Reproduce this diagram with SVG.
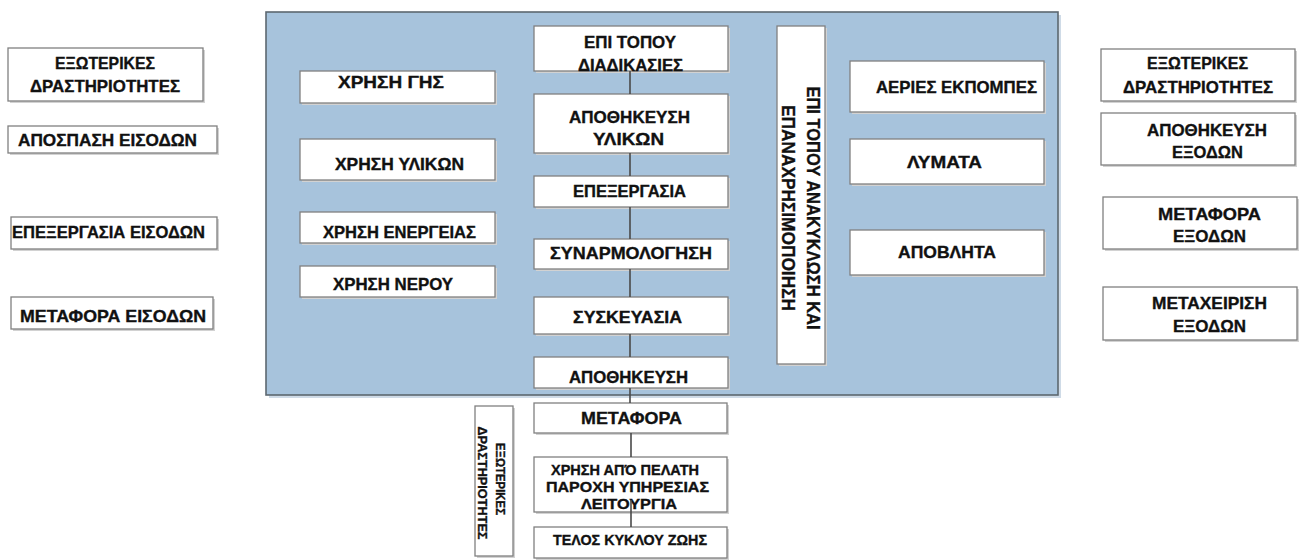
<svg xmlns="http://www.w3.org/2000/svg" width="1299" height="560" viewBox="0 0 1299 560">
<style>
.bg{fill:#ffffff}
.panel{fill:#a7c3dc;stroke:#5d6870;stroke-width:1.6}
.pshadow{fill:#cfdbe7}
.box{fill:#ffffff;stroke:#808080;stroke-width:1.3}
.sh{fill:#d2d2d2}
.t{font-family:"Liberation Sans",Arial,sans-serif;font-weight:bold;font-size:16.5px;fill:#111111;stroke:#111111;stroke-width:0.35px}
.s{font-size:14.5px}
.conn{stroke:#4a4a4a;stroke-width:1.6;fill:none}
</style>
<rect class="bg" x="0" y="0" width="1299" height="560"/>
<g id="panel">
<rect class="pshadow" x="269" y="15" width="792" height="383"/>
<rect class="panel" x="266" y="12" width="792" height="383"/>
</g>
<g id="ext-left">
<rect class="sh" x="10" y="50" width="195" height="53"/><rect class="box" x="8" y="48" width="195" height="53"/>
<text class="t" x="55" y="69" textLength="100" lengthAdjust="spacingAndGlyphs">ΕΞΩΤΕΡΙΚΕΣ</text>
<text class="t" x="30" y="92" textLength="150" lengthAdjust="spacingAndGlyphs">ΔΡΑΣΤΗΡΙΟΤΗΤΕΣ</text>
</g>
<g id="aposp">
<rect class="sh" x="10" y="128" width="209" height="27"/><rect class="box" x="8" y="126" width="209" height="27"/>
<text class="t" x="18" y="146" textLength="179" lengthAdjust="spacingAndGlyphs">ΑΠΟΣΠΑΣΗ ΕΙΣΟΔΩΝ</text>
</g>
<g id="epex-eis">
<rect class="sh" x="13" y="219" width="206" height="32"/><rect class="box" x="11" y="217" width="206" height="32"/>
<text class="t" x="12" y="238" textLength="193" lengthAdjust="spacingAndGlyphs">ΕΠΕΞΕΡΓΑΣΙΑ ΕΙΣΟΔΩΝ</text>
</g>
<g id="metaf-eis">
<rect class="sh" x="13" y="299" width="202" height="32"/><rect class="box" x="11" y="297" width="202" height="32"/>
<text class="t" x="20" y="322" textLength="186" lengthAdjust="spacingAndGlyphs">ΜΕΤΑΦΟΡΑ ΕΙΣΟΔΩΝ</text>
</g>
<g id="xrisi-gis">
<rect class="sh" x="302" y="73" width="195" height="32"/><rect class="box" x="300" y="71" width="195" height="32"/>
<text class="t" x="338" y="88" textLength="106" lengthAdjust="spacingAndGlyphs">ΧΡΗΣΗ ΓΗΣ</text>
</g>
<g id="xrisi-ylikon">
<rect class="sh" x="302" y="141" width="195" height="41"/><rect class="box" x="300" y="139" width="195" height="41"/>
<text class="t" x="335" y="170" textLength="129" lengthAdjust="spacingAndGlyphs">ΧΡΗΣΗ ΥΛΙΚΩΝ</text>
</g>
<g id="xrisi-energeias">
<rect class="sh" x="302" y="214" width="195" height="31"/><rect class="box" x="300" y="212" width="195" height="31"/>
<text class="t" x="323" y="238" textLength="153" lengthAdjust="spacingAndGlyphs">ΧΡΗΣΗ ΕΝΕΡΓΕΙΑΣ</text>
</g>
<g id="xrisi-nerou">
<rect class="sh" x="302" y="268" width="195" height="31"/><rect class="box" x="300" y="266" width="195" height="31"/>
<text class="t" x="333" y="290" textLength="120" lengthAdjust="spacingAndGlyphs">ΧΡΗΣΗ ΝΕΡΟΥ</text>
</g>
<g id="epi-topou">
<rect class="sh" x="536" y="28" width="194" height="45"/><rect class="box" x="534" y="26" width="194" height="45"/>
<text class="t" x="584" y="48" textLength="92" lengthAdjust="spacingAndGlyphs">ΕΠΙ ΤΟΠΟΥ</text>
<text class="t" x="578" y="71" textLength="105" lengthAdjust="spacingAndGlyphs">ΔΙΑΔΙΚΑΣΙΕΣ</text>
</g>
<g id="apoth-ylikon">
<rect class="sh" x="536" y="96" width="194" height="59"/><rect class="box" x="534" y="94" width="194" height="59"/>
<text class="t" x="569" y="123" textLength="121" lengthAdjust="spacingAndGlyphs">ΑΠΟΘΗΚΕΥΣΗ</text>
<text class="t" x="593" y="145" textLength="71" lengthAdjust="spacingAndGlyphs">ΥΛΙΚΩΝ</text>
</g>
<g id="epexergasia">
<rect class="sh" x="536" y="178" width="194" height="31"/><rect class="box" x="534" y="176" width="194" height="31"/>
<text class="t" x="573" y="197" textLength="113" lengthAdjust="spacingAndGlyphs">ΕΠΕΞΕΡΓΑΣΙΑ</text>
</g>
<g id="synarmologisi">
<rect class="sh" x="536" y="241" width="194" height="30"/><rect class="box" x="534" y="239" width="194" height="30"/>
<text class="t" x="550" y="259" textLength="162" lengthAdjust="spacingAndGlyphs">ΣΥΝΑΡΜΟΛΟΓΗΣΗ</text>
</g>
<g id="syskevasia">
<rect class="sh" x="536" y="299" width="194" height="37"/><rect class="box" x="534" y="297" width="194" height="37"/>
<text class="t" x="573" y="323" textLength="109" lengthAdjust="spacingAndGlyphs">ΣΥΣΚΕΥΑΣΙΑ</text>
</g>
<g id="apothikeusi">
<rect class="sh" x="536" y="359" width="194" height="31"/><rect class="box" x="534" y="357" width="194" height="31"/>
<text class="t" x="569" y="383" textLength="119" lengthAdjust="spacingAndGlyphs">ΑΠΟΘΗΚΕΥΣΗ</text>
</g>
<g id="metafora">
<rect class="sh" x="536" y="405" width="193" height="30"/><rect class="box" x="534" y="403" width="193" height="30"/>
<text class="t" x="581" y="424" textLength="101" lengthAdjust="spacingAndGlyphs">ΜΕΤΑΦΟΡΑ</text>
</g>
<g id="xrisi-pelati">
<rect class="sh" x="536" y="459" width="193" height="55"/><rect class="box" x="534" y="457" width="193" height="55"/>
<text class="t s" x="551" y="475" textLength="148" lengthAdjust="spacingAndGlyphs">ΧΡΗΣΗ ΑΠΌ ΠΕΛΑΤΗ</text>
<text class="t s" x="546" y="492" textLength="163" lengthAdjust="spacingAndGlyphs">ΠΑΡΟΧΗ ΥΠΗΡΕΣΙΑΣ</text>
<text class="t s" x="581" y="509" textLength="96" lengthAdjust="spacingAndGlyphs">ΛΕΙΤΟΥΡΓΙΑ</text>
</g>
<g id="telos">
<rect class="sh" x="536" y="529" width="193" height="31"/><rect class="box" x="534" y="527" width="193" height="31"/>
<text class="t s" x="553" y="545" textLength="154" lengthAdjust="spacingAndGlyphs">ΤΕΛΟΣ ΚΥΚΛΟΥ ΖΩΗΣ</text>
</g>
<g id="anakyklosi">
<rect class="sh" x="779" y="28" width="48" height="338"/><rect class="box" x="777" y="26" width="48" height="338"/>
<text class="t" transform="translate(807,208) rotate(90)" x="0" y="0" text-anchor="middle" style="font-size:18px" textLength="243" lengthAdjust="spacingAndGlyphs">ΕΠΙ ΤΟΠΟΥ ΑΝΑΚΥΚΛΩΣΗ ΚΑΙ</text>
<text class="t" transform="translate(782,208) rotate(90)" x="0" y="0" text-anchor="middle" style="font-size:18px" textLength="206" lengthAdjust="spacingAndGlyphs">ΕΠΑΝΑΧΡΗΣΙΜΟΠΟΙΗΣΗ</text>
</g>
<g id="ext-bottom">
<rect class="sh" x="477" y="408" width="38" height="150"/><rect class="box" x="475" y="406" width="38" height="150"/>
<text class="t" transform="translate(496,479) rotate(90)" x="0" y="0" text-anchor="middle" style="font-size:13px" textLength="72" lengthAdjust="spacingAndGlyphs">ΕΞΩΤΕΡΙΚΕΣ</text>
<text class="t" transform="translate(478,483) rotate(90)" x="0" y="0" text-anchor="middle" style="font-size:13px" textLength="113" lengthAdjust="spacingAndGlyphs">ΔΡΑΣΤΗΡΙΟΤΗΤΕΣ</text>
</g>
<g id="aeries">
<rect class="sh" x="852" y="63" width="194" height="51"/><rect class="box" x="850" y="61" width="194" height="51"/>
<text class="t" x="876" y="93" textLength="161" lengthAdjust="spacingAndGlyphs">ΑΕΡΙΕΣ ΕΚΠΟΜΠΕΣ</text>
</g>
<g id="lymata">
<rect class="sh" x="852" y="141" width="194" height="45"/><rect class="box" x="850" y="139" width="194" height="45"/>
<text class="t" x="907" y="168" textLength="75" lengthAdjust="spacingAndGlyphs">ΛΥΜΑΤΑ</text>
</g>
<g id="apovlita">
<rect class="sh" x="852" y="232" width="194" height="45"/><rect class="box" x="850" y="230" width="194" height="45"/>
<text class="t" x="898" y="258" textLength="98" lengthAdjust="spacingAndGlyphs">ΑΠΟΒΛΗΤΑ</text>
</g>
<g id="ext-right">
<rect class="sh" x="1103" y="51" width="194" height="52"/><rect class="box" x="1101" y="49" width="194" height="52"/>
<text class="t" x="1147" y="69" textLength="101" lengthAdjust="spacingAndGlyphs">ΕΞΩΤΕΡΙΚΕΣ</text>
<text class="t" x="1123" y="93" textLength="150" lengthAdjust="spacingAndGlyphs">ΔΡΑΣΤΗΡΙΟΤΗΤΕΣ</text>
</g>
<g id="apoth-exodon">
<rect class="sh" x="1103" y="115" width="194" height="52"/><rect class="box" x="1101" y="113" width="194" height="52"/>
<text class="t" x="1147" y="136" textLength="120" lengthAdjust="spacingAndGlyphs">ΑΠΟΘΗΚΕΥΣΗ</text>
<text class="t" x="1172" y="158" textLength="71" lengthAdjust="spacingAndGlyphs">ΕΞΟΔΩΝ</text>
</g>
<g id="metaf-exodon">
<rect class="sh" x="1105" y="199" width="194" height="52"/><rect class="box" x="1103" y="197" width="194" height="52"/>
<text class="t" x="1158" y="220" textLength="103" lengthAdjust="spacingAndGlyphs">ΜΕΤΑΦΟΡΑ</text>
<text class="t" x="1173" y="242" textLength="73" lengthAdjust="spacingAndGlyphs">ΕΞΟΔΩΝ</text>
</g>
<g id="metax-exodon">
<rect class="sh" x="1105" y="289" width="194" height="53"/><rect class="box" x="1103" y="287" width="194" height="53"/>
<text class="t" x="1152" y="309" textLength="115" lengthAdjust="spacingAndGlyphs">ΜΕΤΑΧΕΙΡΙΣΗ</text>
<text class="t" x="1173" y="332" textLength="73" lengthAdjust="spacingAndGlyphs">ΕΞΟΔΩΝ</text>
</g>
<g id="connectors">
<path class="conn" d="M630 71V94M630 153V176M630 207V239M630 269V297M630 334V357M630 388V403M631 433V457M631 500V527"/>
</g>
</svg>
